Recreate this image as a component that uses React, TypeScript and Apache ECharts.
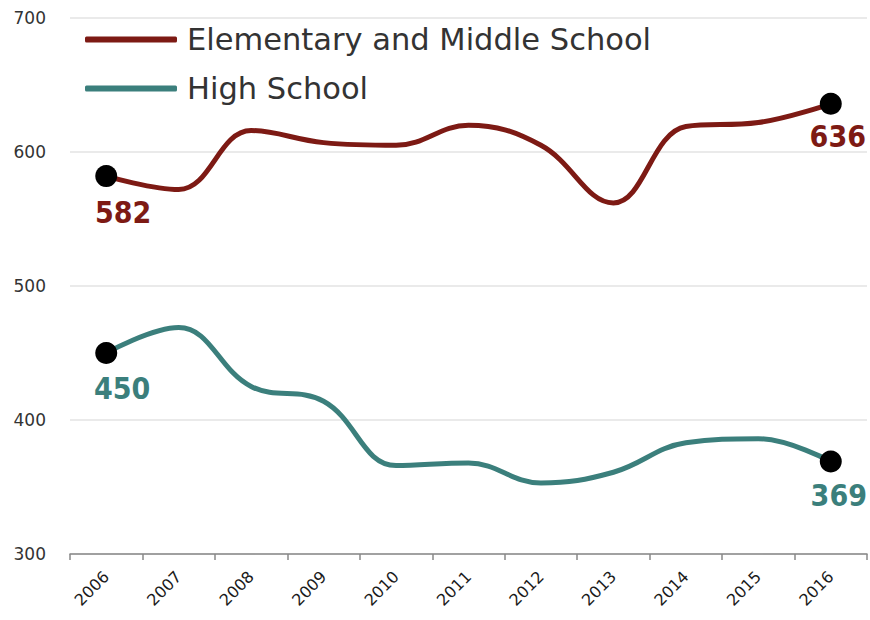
import React, { useEffect, useRef } from "react";
import * as echarts from "echarts";

const years = ["2006", "2007", "2008", "2009", "2010", "2011", "2012", "2013", "2014", "2015", "2016"];
const elementary = [582, 572, 616, 607, 605, 620, 605, 562, 619, 622, 636];
const highSchool = [450, 469, 425, 414, 366, 368, 353, 361, 383, 386, 369];
const seriesNames = ["Elementary and Middle School", "High School"];
const colors = ["#7d1a14", "#3b7f7c"];
const yTicks = [300, 400, 500, 600, 700];

const FONT = "DejaVu Sans";
const LABEL_FONT = "'DejaVu Sans Condensed', 'DejaVu Sans'";

function buildData(values: number[], color: string, offsets: number[][]) {
  return values.map((v, i) => {
    const isEnd = i === 0 || i === values.length - 1;
    if (!isEnd) return { value: v, symbol: "none" };
    const off = i === 0 ? offsets[0] : offsets[1];
    return {
      value: v,
      symbol: "circle",
      symbolSize: 22,
      itemStyle: { color: "#000" },
      label: {
        show: true,
        position: "bottom",
        offset: off,
        color,
        fontFamily: LABEL_FONT,
        fontWeight: "bold",
        fontSize: 30,
        formatter: "{c}",
      },
    };
  });
}

export default function App() {
  const ref = useRef<HTMLDivElement>(null);
  useEffect(() => {
    if (!ref.current) return;
    const chart = echarts.init(ref.current, undefined, { renderer: "svg" });
    chart.setOption({
      animation: false,
      backgroundColor: "#fff",
      grid: { left: 70, right: 3, top: 18, bottom: 66 },
      legend: {
        orient: "vertical",
        left: 80,
        top: 19,
        itemWidth: 92,
        itemHeight: 6,
        itemGap: 18,
        icon: "roundRect",
        textStyle: { fontFamily: FONT, fontSize: 30.5, color: "#333", padding: [0, 0, 0, 5] },
        data: seriesNames,
      },
      xAxis: {
        type: "category",
        data: years,
        boundaryGap: true,
        axisLine: { show: true, lineStyle: { color: "#888", width: 1.5 } },
        axisTick: { show: true, length: 6, lineStyle: { color: "#888", width: 1.5 } },
        axisLabel: {
          rotate: 45,
          interval: 0,
          margin: 20,
          fontFamily: FONT,
          fontSize: 16,
          color: "#1a1a1a",
        },
      },
      yAxis: {
        type: "value",
        min: yTicks[0],
        max: yTicks[yTicks.length - 1],
        interval: 100,
        axisLine: { show: false },
        axisTick: { show: false },
        axisLabel: { fontFamily: FONT, fontSize: 17, color: "#333", margin: 24 },
        splitLine: { lineStyle: { color: "#e3e3e3", width: 1.5 } },
      },
      series: [
        {
          name: seriesNames[0],
          type: "line",
          smooth: 0.4,
          symbol: "none",
          color: colors[0],
          lineStyle: { width: 5, color: colors[0] },
          data: buildData(elementary, colors[0], [[17, 5], [7, 2]]),
        },
        {
          name: seriesNames[1],
          type: "line",
          smooth: 0.4,
          symbol: "none",
          color: colors[1],
          lineStyle: { width: 5, color: colors[1] },
          data: buildData(highSchool, colors[1], [[16, 4], [8, 3]]),
        },
      ],
    });
    return () => chart.dispose();
  }, []);
  return (
    <div
      ref={ref}
      style={{ position: "absolute", left: 0, top: 0, width: 870, height: 620 }}
    />
  );
}
